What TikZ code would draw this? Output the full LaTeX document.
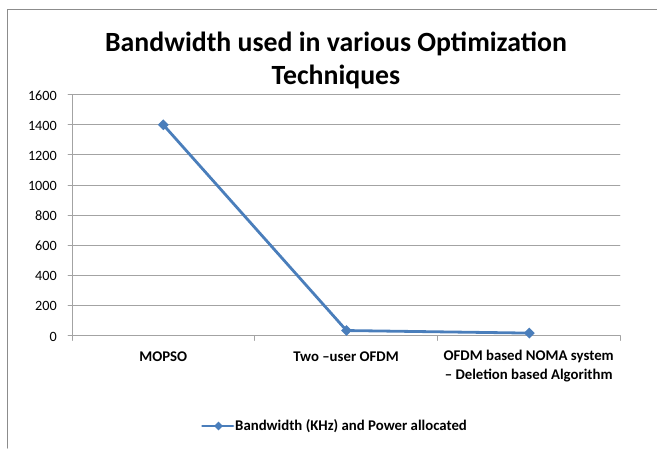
\documentclass[tikz,border=0pt]{standalone}
\usepackage{fontspec}
\setmainfont{Carlito}
\usetikzlibrary{shapes.geometric}
\definecolor{serieblue}{HTML}{4A7EBB}
\definecolor{gridgray}{HTML}{8C8C8C}
\tikzset{
  gridline/.style={line width=0.9pt,color=gridgray!80},
  datapt/.style={diamond,fill=serieblue,inner sep=0pt,minimum size=11pt},
  catlabel/.style={font=\fontsize{14.8}{19}\selectfont\bfseries,align=center},
  ticklabel/.style={font=\fontsize{14.2}{17}\selectfont,anchor=east,inner sep=0pt}
}
\begin{document}
\begin{tikzpicture}[line cap=round,line join=round,x=1pt,y=-1pt]
  \useasboundingbox (0,0) rectangle (657,448);
  % chart frame
  \draw [line width=1.2pt,color=gridgray] (7.5,448) -- (7.5,9.5) -- (657,9.5);
  % title
  \node [font=\fontsize{27.8}{32}\selectfont\bfseries] (title1) at (336,44) {Bandwidth used in various Optimization};
  \node [font=\fontsize{27.8}{32}\selectfont\bfseries] (title2) at (336,77) {Techniques};
  % value axis and grid
  \foreach \v in {0,200,...,1600} {
    \draw [gridline] (68,{335.5-0.1505*\v}) -- (620,{335.5-0.1505*\v});
    \node [ticklabel] at (57,{336.5-0.1505*\v}) {\v};
  }
  \draw [gridline] (72,94.7) -- (72,335.5);
  \foreach \x in {72,254.7,437.3,620}
    \draw [gridline] (\x,335.5) -- (\x,340.5);
  % categories
  \node [catlabel] (mopso) at (163.3,357) {MOPSO};
  \node [catlabel] (ofdm) at (346,357) {Two –user OFDM};
  \node [catlabel] (noma) at (528.7,366.5) {OFDM based NOMA system\\– Deletion based Algorithm};
  % data series
  \coordinate (p1) at (163.3,{335.5-0.1505*1400});
  \coordinate (p2) at (346.5,{335.5-0.1505*33});
  \coordinate (p3) at (529.3,{335.5-0.1505*16});
  \draw [line width=2.8pt,color=serieblue] (p1) -- (p2) -- (p3);
  \foreach \p in {p1,p2,p3}
    \node [datapt] at (\p) {};
  % legend
  \coordinate (leg1) at (202.5,426);
  \coordinate (leg2) at (233,426);
  \draw [line width=2.8pt,color=serieblue] (leg1) -- (leg2);
  \node [datapt,minimum size=9pt] (legpt) at (218.5,426) {};
  \node [anchor=west,font=\fontsize{14.8}{18}\selectfont\bfseries,inner sep=2pt] (legtext) at (leg2) {Bandwidth (KHz) and Power allocated};
\end{tikzpicture}
\end{document}
